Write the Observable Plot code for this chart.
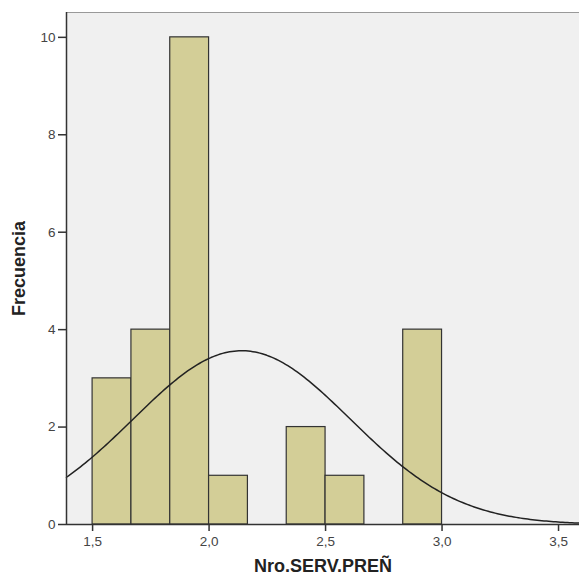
<!DOCTYPE html>
<html>
<head>
<meta charset="utf-8">
<script src="https://cdn.jsdelivr.net/npm/d3@7"></script>
<script src="https://cdn.jsdelivr.net/npm/@observablehq/plot@0.6"></script>
<style>
  html, body { margin: 0; padding: 0; background: #fff; }
  #chart svg { display: block; }
</style>
</head>
<body>
<div id="chart"></div>
<script>
// Histogram bins (Nro.SERV.PREÑ) and frequencies
const binStart = [1.5, 1.6667, 1.8333, 2.0, 2.3333, 2.5, 2.8333];
const binEnd   = [1.6667, 1.8333, 2.0, 2.1667, 2.5, 2.6667, 3.0];
const freq     = [3, 4, 10, 1, 2, 1, 4];
const xTicks = [1.5, 2.0, 2.5, 3.0, 3.5];
const yTicks = [0, 2, 4, 6, 8, 10];
// Normal curve parameters
const N = 25, binWidth = 1 / 6, mean = 2.14, sd = 0.466;

const bars = binStart.map((s, i) => ({x1: s, x2: binEnd[i], y: freq[i]}));
const xDomain = [1.388, 3.59];
const curveX = d3.range(xDomain[0], xDomain[1] + 0.001, 0.01);
const curve = curveX.map(x => ({
  x, y: N * binWidth / (sd * Math.sqrt(2 * Math.PI)) * Math.exp(-0.5 * ((x - mean) / sd) ** 2)
}));
const fmt = d => d.toFixed(1).replace(".", ",");

const plot = Plot.plot({
  width: 579,
  height: 581,
  marginLeft: 66,
  marginRight: 0,
  marginTop: 12,
  marginBottom: 57,
  style: {fontFamily: "Liberation Sans, Arial, sans-serif", fontSize: "13.5px", color: "#333", background: "#fff"},
  x: {domain: xDomain, ticks: xTicks, tickFormat: fmt, label: null},
  y: {domain: [0, 10.51], ticks: yTicks, label: null},
  marks: [
    Plot.frame({fill: "#f0f0f0", stroke: null}),
    Plot.ruleY([10.51], {stroke: "#999", strokeWidth: 1}),
    Plot.rectY(bars, {x1: "x1", x2: "x2", y: "y", fill: "#d3ce97", stroke: "#333", strokeWidth: 1.2}),
    Plot.line(curve, {x: "x", y: "y", stroke: "#222", strokeWidth: 1.5}),
    Plot.ruleY([0], {stroke: "#333", strokeWidth: 1.5}),
    Plot.ruleX([xDomain[0]], {stroke: "#333", strokeWidth: 1.5}),
    Plot.axisX({ticks: xTicks, tickFormat: fmt, tickSize: 7, tickPadding: 5, stroke: "#333", fill: "#444", strokeWidth: 1.5, fontSize: 13.5, label: null}),
    Plot.axisY({ticks: yTicks, tickSize: 8, tickPadding: 3, stroke: "#333", fill: "#444", strokeWidth: 1.5, fontSize: 13.5, label: null}),
    Plot.text(["Nro.SERV.PREÑ"], {frameAnchor: "bottom", dy: 47, fontSize: 18, fontWeight: "bold", fill: "#222"}),
    Plot.text(["Frecuencia"], {frameAnchor: "left", textAnchor: "middle", dx: -47, rotate: -90, fontSize: 18, fontWeight: "bold", fill: "#222"})
  ]
});
document.getElementById("chart").appendChild(plot);
</script>
</body>
</html>
